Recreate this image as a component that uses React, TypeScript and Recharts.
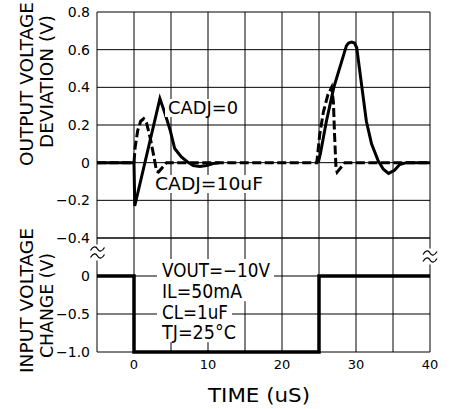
import React from 'react';
import { LineChart, Line, XAxis, YAxis, CartesianGrid } from 'recharts';

const timeTicks = [-5, 0, 5, 10, 15, 20, 25, 30, 35, 40];
const timeLabels = ['', '0', '', '10', '', '20', '', '30', '', '40'];
const outputTicks = [-0.4, -0.2, 0, 0.2, 0.4, 0.6, 0.8];
const outputLabels = ['\u22120.4', '\u22120.2', '0', '0.2', '0.4', '0.6', '0.8'];
const inputTicks = [-1, -0.5, 0];
const inputLabels = ['\u22121.0', '\u22120.5', '0'];

// CADJ = 0 (solid)
const cadj0Time = [-5, 0, 0.1, 3.5, 4.2, 4.9, 5.5, 6.4, 7.2, 8.0, 8.9, 9.8, 10.7, 11.5, 18, 24.9, 25.2, 26.0, 27.0, 28.7, 29.0, 29.4, 29.8, 30.1, 30.8, 31.4, 32.1, 33.0, 33.7, 34.4, 35.2, 35.9, 36.8, 40];
const cadj0Values = [0, 0, -0.23, 0.34, 0.26, 0.17, 0.075, 0.03, 0.005, -0.015, -0.02, -0.015, -0.005, 0, null, 0, 0.05, 0.22, 0.4, 0.62, 0.635, 0.64, 0.635, 0.61, 0.4, 0.22, 0.1, 0.01, -0.035, -0.057, -0.04, -0.01, 0, 0];

// CADJ = 10uF (dashed)
const cadj10Time = [-5, 0, 0.15, 0.5, 0.9, 1.3, 1.7, 2.2, 2.7, 3.05, 3.3, 4.4, 24.7, 25.1, 25.6, 26.2, 26.7, 26.95, 27.1, 27.3, 27.45, 28.5, 40];
const cadj10Values = [0, 0, 0.08, 0.17, 0.22, 0.233, 0.21, 0.13, 0.03, -0.045, -0.05, 0, 0, 0.15, 0.27, 0.36, 0.4, 0.32, 0.15, -0.03, -0.05, 0, 0];

// input step
const inputTime = [-5, 0, 0, 25, 25, 40];
const inputValues = [0, 0, -1, -1, 0, 0];

const seriesLabels = ['CADJ=0', 'CADJ=10uF'];
const conditionLines = ['VOUT=\u221210V', 'IL=50mA', 'CL=1uF', 'TJ=25\u00b0C'];
const outputTitle = ['OUTPUT VOLTAGE', 'DEVIATION (V)'];
const inputTitle = ['INPUT VOLTAGE', 'CHANGE (V)'];
const timeTitle = 'TIME (uS)';

const toRows = (ts: number[], vs: (number | null)[]) => ts.map((t, i) => ({ t, v: vs[i] }));
const cadj0Data = toRows(cadj0Time, cadj0Values);
const cadj10Data = toRows(cadj10Time, cadj10Values);
const inputData = toRows(inputTime, inputValues);

const FONT = "'DejaVu Sans', sans-serif";
const fmt = (ticks: number[], labels: string[]) => (v: number) => {
  const i = ticks.findIndex((x) => Math.abs(x - v) < 1e-9);
  return i >= 0 ? labels[i] : '';
};

const Tilde = ({ cx, cy }: { cx: number; cy: number }) => {
  const p = (y: number) =>
    `M${cx - 7},${y + 1.5} C${cx - 4.5},${y - 3} ${cx - 1.5},${y - 3} ${cx},${y} S${cx + 4.5},${y + 3} ${cx + 7},${y - 1.5}`;
  return (
    <g>
      <rect x={cx - 7.5} y={cy - 8} width={15} height={16} fill="#fff" />
      <path d={p(cy - 3.5)} fill="none" stroke="#000" strokeWidth={1.2} />
      <path d={p(cy + 3.5)} fill="none" stroke="#000" strokeWidth={1.2} />
    </g>
  );
};

const RotTitle = ({ x, y, len, text }: { x: number; y: number; len: number; text: string }) => (
  <text
    transform={`translate(${x},${y}) rotate(-90)`}
    textAnchor="middle"
    fontFamily={FONT}
    fontSize={18}
    fill="#000"
    textLength={len}
    lengthAdjust="spacingAndGlyphs"
  >
    {text}
  </text>
);

const TopOverlay = () => (
  <g>
    <RotTitle x={33} y={84} len={164} text={outputTitle[0]} />
    <RotTitle x={53} y={81.5} len={133} text={outputTitle[1]} />
    <rect x={165} y={99} width={77} height={18} fill="#fff" />
    <text x={168} y={114} fontFamily={FONT} fontSize={17} fill="#000" textLength={70} lengthAdjust="spacingAndGlyphs">
      {seriesLabels[0]}
    </text>
    <rect x={152} y={175} width={115} height={18} fill="#fff" />
    <text x={155} y={190} fontFamily={FONT} fontSize={17} fill="#000" textLength={108} lengthAdjust="spacingAndGlyphs">
      {seriesLabels[1]}
    </text>
  </g>
);

const condWidths = [108, 80, 66, 74];
const condCenters = [43.5, 64.7, 85.7, 105.7];

const BottomOverlay = () => (
  <g>
    <RotTitle x={33} y={74.5} len={145} text={inputTitle[0]} />
    <RotTitle x={53} y={79.5} len={105} text={inputTitle[1]} />
    {conditionLines.map((s, i) => (
      <rect key={'r' + i} x={157} y={condCenters[i] - 10.5} width={condWidths[i] + 9} height={21} fill="#fff" />
    ))}
    {conditionLines.map((s, i) => (
      <text
        key={'t' + i}
        x={162}
        y={condCenters[i] + 7}
        fontFamily={FONT}
        fontSize={19}
        fill="#000"
        textLength={condWidths[i]}
        lengthAdjust="spacingAndGlyphs"
      >
        {s}
      </text>
    ))}
    <Tilde cx={97.5} cy={26.5} />
    <Tilde cx={430} cy={30.5} />
    <text x={259} y={176} textAnchor="middle" fontFamily={FONT} fontSize={20} fill="#000" textLength={102} lengthAdjust="spacingAndGlyphs">
      {timeTitle}
    </text>
  </g>
);

export default function App() {
  return (
    <div style={{ position: 'absolute', left: 0, top: 0, width: 456, height: 409, background: '#fff' }}>
      <div style={{ position: 'absolute', left: 0, top: 0 }}>
        <LineChart width={456} height={252} margin={{ top: 12, right: 26, bottom: 14, left: 0 }}>
          <CartesianGrid stroke="#000" strokeWidth={1} />
          <XAxis dataKey="t" type="number" domain={[-5, 40]} ticks={timeTicks} hide allowDuplicatedCategory={false} />
          <YAxis
            type="number"
            domain={[-0.4, 0.8]}
            ticks={outputTicks}
            interval={0}
            width={97}
            tickLine={false}
            axisLine={false}
            tickMargin={1}
            tickFormatter={fmt(outputTicks, outputLabels)}
            tick={{ fill: '#000', fontSize: 14, fontFamily: FONT }}
            label={<TopOverlay />}
          />
          <Line data={cadj0Data} dataKey="v" type="linear" stroke="#000" strokeWidth={3} dot={false} isAnimationActive={false} connectNulls={false} />
          <Line data={cadj10Data} dataKey="v" type="linear" stroke="#000" strokeWidth={3} strokeDasharray="9 3.5" dot={false} isAnimationActive={false} />
        </LineChart>
      </div>
      <div style={{ position: 'absolute', left: 0, top: 226 }}>
        <LineChart width={456} height={183} margin={{ top: 12, right: 26, bottom: 0, left: 0 }}>
          <CartesianGrid stroke="#000" strokeWidth={1} />
          <XAxis
            dataKey="t"
            type="number"
            domain={[-5, 40]}
            ticks={timeTicks}
            interval={0}
            height={57}
            tickLine={false}
            axisLine={false}
            allowDuplicatedCategory={false}
            tickFormatter={fmt(timeTicks, timeLabels)}
            tick={{ fill: '#000', fontSize: 13, fontFamily: FONT }}
          />
          <YAxis
            type="number"
            domain={[-1, 0.5]}
            ticks={inputTicks}
            interval={0}
            width={97}
            tickLine={false}
            axisLine={false}
            tickMargin={1}
            tickFormatter={fmt(inputTicks, inputLabels)}
            tick={{ fill: '#000', fontSize: 14, fontFamily: FONT }}
            label={<BottomOverlay />}
          />
          <Line data={inputData} dataKey="v" type="linear" stroke="#000" strokeWidth={3.5} dot={false} isAnimationActive={false} />
        </LineChart>
      </div>
    </div>
  );
}
